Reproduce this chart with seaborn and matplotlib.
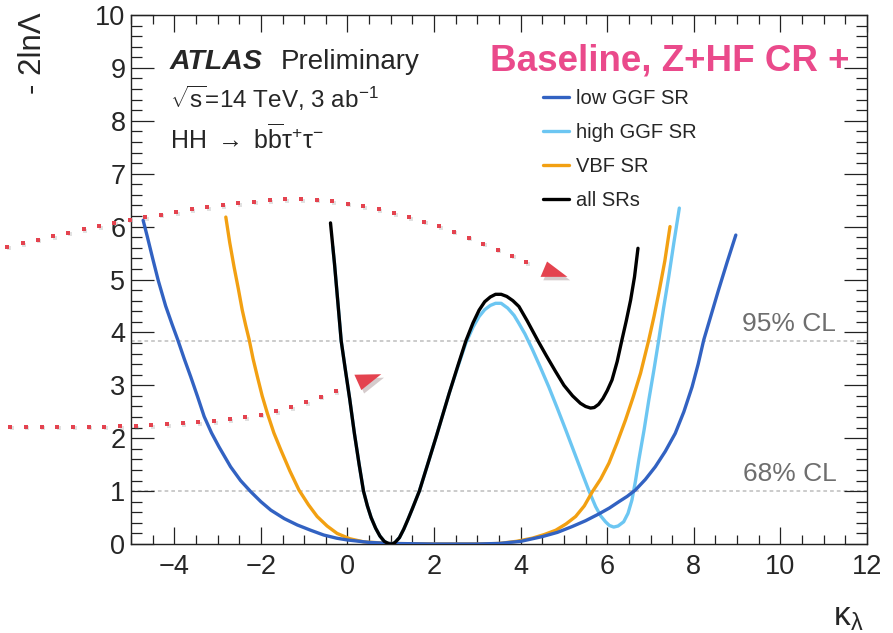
import numpy as np
import pandas as pd
import matplotlib
matplotlib.use("Agg")
import matplotlib.pyplot as plt
import matplotlib.patheffects as pe
from matplotlib.patches import Polygon
from matplotlib.ticker import MultipleLocator
from matplotlib.transforms import offset_copy
import seaborn as sns

# -2 ln(Lambda) scan versus kappa_lambda for each signal-region selection
kl_low_ggf = [-4.72, -4.62, -4.50, -4.37, -4.20, -4.05, -3.92, -3.77, -3.62, -3.46, -3.31,
              -3.14, -2.97, -2.70, -2.47, -2.235, -2.0, -1.77, -1.46, -1.16, -0.85, -0.55,
              -0.25, 0.0, 0.5, 1.0, 2.0, 3.0, 3.5, 4.0, 4.5, 4.85, 5.19, 5.5, 5.81, 6.05,
              6.27, 6.46, 6.65, 6.88, 7.11, 7.34, 7.57, 7.77, 7.96, 8.10, 8.23, 8.40, 8.57,
              8.77, 8.97]
nll_low_ggf = [6.12, 5.80, 5.40, 4.98, 4.50, 4.15, 3.86, 3.50, 3.16, 2.78, 2.41,
               2.10, 1.84, 1.46, 1.20, 0.99, 0.80, 0.64, 0.48, 0.36, 0.26, 0.17,
               0.11, 0.076, 0.03, 0.01, 0.0, 0.0, 0.01, 0.05, 0.14, 0.22, 0.33, 0.44, 0.57, 0.68,
               0.80, 0.90, 1.02, 1.22, 1.46, 1.75, 2.09, 2.50, 2.97, 3.40, 3.86, 4.33, 4.80,
               5.33, 5.84]

kl_high_ggf = [-0.34, -0.30, -0.22, -0.145, -0.05, 0.05, 0.16, 0.27, 0.37, 0.46, 0.546, 0.65,
               0.75, 0.85, 0.95, 1.0, 1.05, 1.10, 1.20, 1.30, 1.40, 1.50, 1.66, 1.85, 2.05,
               2.35, 2.55, 2.735, 2.90, 3.04, 3.17, 3.30, 3.42, 3.55, 3.70, 3.85, 3.96, 4.10,
               4.27, 4.45, 4.65, 4.85, 5.04, 5.23, 5.42, 5.58, 5.73, 5.85, 5.96, 6.05, 6.15,
               6.25, 6.38, 6.48, 6.57, 6.65, 6.73, 6.85, 6.96, 7.08, 7.19, 7.30, 7.42, 7.54,
               7.665]
nll_high_ggf = [5.62, 5.30, 4.55, 3.84, 3.30, 2.75, 2.09, 1.50, 1.00, 0.72, 0.50, 0.30,
                0.15, 0.05, 0.005, 0.0, 0.005, 0.03, 0.12, 0.28, 0.47, 0.67, 1.00, 1.50, 2.03,
                2.85, 3.35, 3.80, 4.10, 4.30, 4.43, 4.51, 4.55, 4.55, 4.46, 4.32, 4.17, 3.97,
                3.68, 3.35, 2.97, 2.56, 2.16, 1.75, 1.34, 1.00, 0.71, 0.53, 0.42, 0.35, 0.32,
                0.34, 0.42, 0.58, 0.83, 1.18, 1.59, 2.15, 2.72, 3.30, 3.86, 4.45, 5.05, 5.70,
                6.35]

kl_vbf = [-2.81, -2.72, -2.62, -2.52, -2.43, -2.35, -2.27, -2.18, -2.08, -1.97, -1.85, -1.70,
          -1.54, -1.33, -1.12, -0.90, -0.70, -0.47, -0.24, 0.05, 0.376, 1.0, 2.0, 3.0, 3.5,
          3.9, 4.27, 4.55, 4.81, 5.05, 5.27, 5.47, 5.65, 5.85, 6.04, 6.23, 6.42, 6.60, 6.77,
          6.96, 7.08, 7.19, 7.33, 7.45]
nll_vbf = [6.18, 5.70, 5.24, 4.82, 4.42, 4.13, 3.86, 3.50, 3.16, 2.80, 2.47, 2.10,
           1.78, 1.38, 1.02, 0.74, 0.52, 0.34, 0.20, 0.10, 0.04, 0.01, 0.0, 0.0, 0.01,
           0.05, 0.11, 0.18, 0.26, 0.38, 0.52, 0.72, 0.98, 1.23, 1.53, 1.92, 2.34, 2.78, 3.23,
           3.86, 4.30, 4.74, 5.35, 6.00]

kl_all = [-0.392, -0.30, -0.22, -0.145, -0.05, 0.05, 0.16, 0.27, 0.37, 0.46, 0.546, 0.65,
          0.75, 0.85, 0.95, 1.0, 1.05, 1.10, 1.20, 1.30, 1.40, 1.50, 1.66, 1.85, 2.05, 2.35,
          2.55, 2.735, 2.90, 3.04, 3.17, 3.30, 3.42, 3.55, 3.68, 3.82, 3.96, 4.15, 4.40, 4.60,
          4.80, 5.00, 5.20, 5.38, 5.50, 5.615, 5.70, 5.80, 5.90, 6.00, 6.11, 6.23, 6.34,
          6.44, 6.54, 6.63, 6.71]
nll_all = [6.07, 5.30, 4.55, 3.84, 3.30, 2.75, 2.09, 1.50, 1.00, 0.72, 0.50, 0.30,
           0.15, 0.05, 0.005, 0.0, 0.005, 0.03, 0.12, 0.28, 0.47, 0.67, 1.00, 1.50, 2.03, 2.85,
           3.37, 3.84, 4.18, 4.42, 4.58, 4.67, 4.72, 4.72, 4.68, 4.60, 4.49, 4.22, 3.84, 3.55,
           3.27, 3.00, 2.80, 2.66, 2.60, 2.57, 2.58, 2.64, 2.75, 2.90, 3.10, 3.45, 3.86,
           4.22, 4.61, 5.05, 5.59]

series_labels = ["low GGF SR", "high GGF SR", "VBF SR", "all SRs"]
series_colors = ["#3262C2", "#6CC6F2", "#F2A012", "#000000"]
series_layer = [3, 1, 2, 4]

cl_levels = [3.84, 1.0]
cl_labels = ["95% CL", "68% CL"]

# guide paths for the two call-out arrows (kappa_lambda, -2lnL units)
arrow_upper_x = [-7.86, -7.14, -6.41, -5.68, -4.96, -4.24, -3.50, -2.77, -2.04, -1.34,
                 -0.57, 0.14, 0.88, 1.58, 2.29, 2.98, 3.66, 4.33]
arrow_upper_y = [5.62, 5.75, 5.89, 6.02, 6.14, 6.23, 6.34, 6.42, 6.48, 6.52,
                 6.50, 6.42, 6.30, 6.14, 5.96, 5.73, 5.50, 5.26]
arrow_upper_head = [(4.46, 5.05), (5.08, 5.05), (4.61, 5.34)]
arrow_lower_x = [-7.79, -7.06, -6.34, -5.62, -4.84, -4.12, -3.37, -2.64, -1.91, -1.20, -0.49, -0.15]
arrow_lower_y = [2.22, 2.22, 2.22, 2.22, 2.23, 2.27, 2.30, 2.36, 2.45, 2.61, 2.82, 2.92]
arrow_lower_head = [(0.16, 3.20), (0.78, 3.21), (0.32, 2.91)]

frames = []
for lab, xs, ys in zip(series_labels,
                       [kl_low_ggf, kl_high_ggf, kl_vbf, kl_all],
                       [nll_low_ggf, nll_high_ggf, nll_vbf, nll_all]):
    frames.append(pd.DataFrame({"kl": xs, "nll": ys, "selection": lab}))
scan = pd.concat(frames, ignore_index=True)

sns.set_theme(style="ticks")
plt.rcParams["font.family"] = ["Liberation Sans", "DejaVu Sans"]
plt.rcParams["mathtext.fontset"] = "custom"
plt.rcParams["mathtext.rm"] = "Liberation Sans"
plt.rcParams["mathtext.it"] = "Liberation Sans:italic"
plt.rcParams["mathtext.bf"] = "Liberation Sans:bold"

W, H = 893, 633
fig = plt.figure(figsize=(W / 100, H / 100), dpi=100)
ax = fig.add_axes([131 / W, 1 - 544 / H, (867 - 131) / W, (544 - 15) / H])

for lab, col, z in zip(series_labels, series_colors, series_layer):
    sub = scan[scan["selection"] == lab]
    sns.lineplot(data=sub, x="kl", y="nll", color=col, lw=2.4, sort=False,
                 estimator=None, ax=ax, zorder=z, label=lab)

# confidence-level reference lines
for lvl, txt in zip(cl_levels, cl_labels):
    ax.axhline(lvl, color="#BDBDBD", lw=1.1, ls=(0, (2.4, 2.0)), zorder=0.5)
    ax.text(11.29, lvl + 0.09, txt, ha="right", va="bottom", fontsize=19, color="#6E6E6E")

ax.set_xlim(-5, 12)
ax.set_ylim(0, 10)
ax.set_xticks([-4, -2, 0, 2, 4, 6, 8, 10, 12])
ax.set_yticks(range(0, 11))
ax.xaxis.set_minor_locator(MultipleLocator(0.5))
ax.yaxis.set_minor_locator(MultipleLocator(0.2))
ax.tick_params(which="both", direction="in", top=True, right=True, width=0.9,
               color="#222222", labelsize=19.5)
ax.tick_params(axis="x", which="major", length=12.5, pad=7)
ax.tick_params(axis="x", which="minor", length=6.5)
ax.tick_params(axis="y", which="major", length=16.5, pad=4)
ax.tick_params(axis="y", which="minor", length=8)
for sp in ax.spines.values():
    sp.set_linewidth(1.0)
    sp.set_color("#222222")
ax.set_xlabel("")
ax.set_ylabel("")

# legend
hl, ll = ax.get_legend_handles_labels()
order = [ll.index(l) for l in series_labels]
ax.legend([hl[i] for i in order], [ll[i] for i in order], loc="upper left",
          bbox_to_anchor=(543 / W, 1 - 89 / H), bbox_transform=fig.transFigure,
          frameon=False, fontsize=14.5, handlelength=1.3, handletextpad=0.35,
          labelspacing=0.74, borderpad=0, borderaxespad=0)

# axis titles
fig.text(33 / W, 1 - 12 / H, "- 2ln\u039b", rotation=90, ha="center", va="top", fontsize=22.5)
fig.text(848 / W, 1 - 633 / H, r"$\mathrm{\kappa_{\lambda}}$", ha="center", va="bottom",
         fontsize=24)

# experiment label
fig.text(170 / W, 1 - 69 / H, "ATLAS", fontsize=20.5, fontweight="bold", fontstyle="italic",
         ha="left", va="baseline")
fig.text(281 / W, 1 - 69 / H, "Preliminary", fontsize=20, ha="left", va="baseline")
fig.text(170 / W, 1 - 108 / H, r"$\sqrt{\mathrm{s}}$=14 TeV, 3 ab$^{-1}$", fontsize=17.5,
         ha="left", va="baseline")
fig.text(170 / W, 1 - 149 / H,
         r"HH $\rightarrow$ b$\overline{\mathrm{b}}$" + "\u03c4$^{+}$\u03c4$^{-}$",
         fontsize=18, ha="left", va="baseline")
fig.text(490 / W, 1 - 71 / H, "Baseline, Z+HF CR +", fontsize=26.5, fontweight="bold",
         color="#EA4A8B", ha="left", va="baseline")


def dots_along(xs, ys, step_px=15.7):
    """Place evenly spaced dot centres along a guide path (display-space spacing)."""
    pts = ax.transData.transform(np.column_stack([xs, ys]))
    seg = np.hypot(*np.diff(pts, axis=0).T)
    dist = np.concatenate([[0.0], np.cumsum(seg)])
    t = np.arange(0.0, dist[-1] + 0.1, step_px)
    px = np.interp(t, dist, pts[:, 0])
    py = np.interp(t, dist, pts[:, 1])
    return ax.transData.inverted().transform(np.column_stack([px, py]))


# call-out arrows with a soft drop shadow
red = "#E4434F"
shadow_tr = offset_copy(ax.transData, fig=fig, x=1.5, y=-1.5, units="dots")
shadow_patch = [pe.SimplePatchShadow(offset=(2, -2.5), alpha=0.22), pe.Normal()]
for xs, ys, head in [(arrow_upper_x, arrow_upper_y, arrow_upper_head),
                     (arrow_lower_x, arrow_lower_y, arrow_lower_head)]:
    d = dots_along(xs, ys)
    ax.plot(d[:, 0], d[:, 1], ls="none", marker="s", ms=3.4, mew=0, color="#888888",
            alpha=0.25, clip_on=False, zorder=5.5, transform=shadow_tr)
    ax.plot(d[:, 0], d[:, 1], ls="none", marker="s", ms=3.4, mew=0, color=red,
            clip_on=False, zorder=6)
    tri = Polygon(head, closed=True, facecolor=red, edgecolor="none", clip_on=False,
                  zorder=6, path_effects=shadow_patch)
    ax.add_patch(tri)

fig.savefig("out.png", dpi=100)
